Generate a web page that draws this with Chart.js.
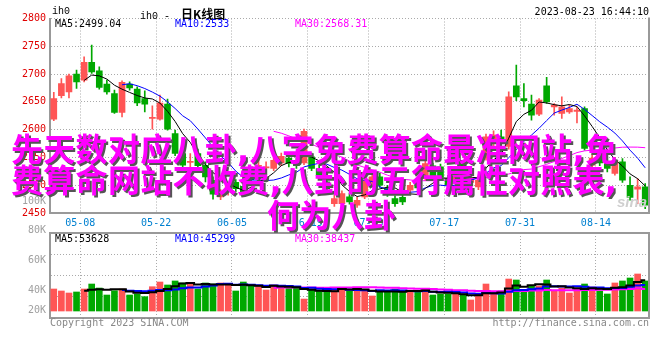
<!DOCTYPE html>
<html>
<head>
<meta charset="utf-8">
<script src="https://cdn.jsdelivr.net/npm/chart.js@4.4.0/dist/chart.umd.min.js"></script>
<style>
  body { margin: 0; width: 660px; height: 360px; background: #fff; position: relative; overflow: hidden; font-family: "DejaVu Sans Mono", monospace; }
  canvas { position: absolute; left: 0; top: 0; }
  .t { position: absolute; font-size: 10px; line-height: 10px; white-space: nowrap; }
  .big { position: absolute; font: bold 32px/32px "DejaVu Sans", "Noto Sans CJK SC"; letter-spacing: 0.3px; color: #ff00ff; text-shadow: 2px 2px 0 #555; white-space: nowrap; }
</style>
</head>
<body>
<canvas id="price" width="660" height="360"></canvas>
<canvas id="vol" width="660" height="360"></canvas>

<div class="t" style="left:52px;top:7px;font-family:'Liberation Mono'">ih0</div>
<div class="t" style="left:140px;top:5px;line-height:12px"><span style="font-family:'Liberation Mono'">ih0 -</span><span style="font:bold 12px 'Noto Sans CJK SC';margin-left:11px">日K线图</span></div>
<div class="t" style="right:11px;top:7px">2023-08-23 16:44:10</div>

<div class="t" style="left:55px;top:19px;color:#000">MA5:2499.04</div>
<div class="t" style="left:175px;top:19px;color:#0000ff">MA10:2533</div>
<div class="t" style="left:295px;top:19px;color:#ff00ff">MA30:2568.31</div>

<div class="t" style="left:55px;top:234px;color:#000">MA5:53628</div>
<div class="t" style="left:175px;top:234px;color:#0000ff">MA10:45299</div>
<div class="t" style="left:295px;top:234px;color:#ff00ff">MA30:38437</div>

<div class="t" style="left:50px;top:318px;color:#888">Copyright 2023 SINA.COM</div>
<div class="t" style="right:11px;top:318px;color:#888">http://finance.sina.com.cn</div>
<div class="t" style="left:617px;top:193px;font:italic bold 15px 'Liberation Sans';color:#cfcfcf">sina</div>

<div class="big" style="left:11px;top:134px">先天数对应八卦,八字免费算命最准网站,免</div>
<div class="big" style="left:11px;top:165px">费算命网站不收费,八卦的五行属性对照表,</div>
<div class="big" style="left:267px;top:200px">何为八卦</div>

<script>
// trading days shown on the daily K chart
const dates = ['04-27','04-28','05-04','05-05','05-08','05-09','05-10','05-11','05-12','05-15',
  '05-16','05-17','05-18','05-19','05-22','05-23','05-24','05-25','05-26','05-29',
  '05-30','05-31','06-01','06-02','06-05','06-06','06-07','06-08','06-09','06-12',
  '06-13','06-14','06-15','06-16','06-19','06-20','06-21','06-26','06-27','06-28',
  '06-29','06-30','07-03','07-04','07-05','07-06','07-07','07-10','07-11','07-12',
  '07-13','07-14','07-17','07-18','07-19','07-20','07-21','07-24','07-25','07-26',
  '07-27','07-28','07-31','08-01','08-02','08-03','08-04','08-07','08-08','08-09',
  '08-10','08-11','08-14','08-15','08-16','08-17','08-18','08-21','08-22'];
const tickDates = ['05-08','05-22','06-05','06-19','07-03','07-17','07-31','08-14'];

// OHLC
const open = [2619,2661,2668,2700,2689,2721,2706,2682,2665,2631,
  2682,2673,2656,2620,2619,2646,2593,2557,2541,2557,
  2536,2509,2479,2488,2505,2498,2520,2534,2531,2530,
  2540,2549,2545,2540,2551,2530,2506,2467,2467,2479,
  2464,2479,2505,2515,2494,2476,2478,2491,2505,2512,
  2535,2533,2512,2503,2539,2505,2497,2549,2575,2587,
  2570,2679,2656,2646,2628,2679,2641,2629,2632,2633,
  2638,2536,2555,2539,2521,2542,2500,2493,2497];
const high = [2667,2692,2700,2707,2731,2752,2713,2689,2671,2688,
  2686,2677,2670,2643,2662,2655,2599,2563,2557,2565,
  2542,2515,2492,2505,2510,2550,2526,2545,2542,2550,
  2558,2555,2550,2601,2558,2536,2512,2482,2490,2486,
  2478,2512,2520,2522,2500,2481,2484,2505,2511,2545,
  2540,2538,2518,2520,2545,2518,2514,2592,2598,2599,
  2668,2716,2683,2662,2656,2694,2647,2659,2644,2641,
  2641,2555,2562,2551,2550,2548,2515,2512,2503];
const low = [2616,2657,2657,2674,2686,2701,2673,2664,2629,2623,
  2671,2643,2632,2601,2617,2599,2553,2524,2527,2524,
  2506,2475,2474,2482,2488,2482,2505,2525,2522,2526,
  2535,2533,2530,2537,2526,2514,2490,2462,2463,2466,
  2460,2476,2500,2496,2480,2462,2465,2486,2490,2508,
  2510,2510,2495,2498,2525,2500,2492,2545,2570,2570,
  2565,2652,2641,2617,2625,2647,2626,2620,2629,2612,
  2563,2530,2535,2524,2518,2505,2473,2467,2458];
const close = [2656,2683,2697,2686,2721,2704,2676,2668,2631,2685,
  2675,2648,2646,2622,2648,2601,2557,2536,2543,2535,
  2515,2484,2488,2500,2494,2488,2510,2536,2533,2545,
  2552,2539,2535,2597,2530,2518,2494,2476,2485,2470,
  2473,2509,2515,2500,2485,2467,2470,2500,2495,2539,
  2515,2515,2500,2515,2530,2512,2509,2587,2590,2578,
  2659,2659,2652,2626,2653,2650,2644,2641,2638,2635,
  2566,2549,2540,2530,2545,2509,2478,2497,2464];

// moving averages as drawn on the chart
const ma5 = [null,null,null,null,
  2688.6,2698.2,2696.8,2691,2680,2672.8,2667,2661.4,2657,2655.2,
  2647.8,2633,2614.8,2592.8,2577,2554.4,2537.2,2522.6,2513,2504.4,
  2496.2,2490.8,2496,2505.6,2512.2,2522.4,2535.2,2541,2540.8,2553.6,
  2550.6,2543.8,2534.8,2523,2500.6,2488.6,2479.6,2482.6,2490.4,2493.4,
  2496.4,2495.2,2487.4,2484.4,2483.4,2494.2,2503.8,2512.8,2512.8,2516.8,
  2515,2514.4,2513.2,2530.6,2545.6,2555.2,2584.6,2614.6,2627.6,2634.8,
  2649.8,2648,2645,2642.8,2645.2,2641.6,2624.8,2605.8,2585.6,2564,
  2546,2534.6,2520.4,2511.8,2498.6];
const ma10 = [null,null,null,null,null,null,null,null,null,
  2680.7,2682.6,2679.1,2674,2667.6,2660.3,2650,2638.1,2624.9,2616.1,
  2601.1,2585.1,2568.7,2552.9,2540.7,2525.3,2514,2509.3,2509.3,2508.3,
  2509.3,2513,2518.5,2523.2,2532.9,2536.5,2539.5,2537.9,2531.9,2527.1,
  2519.6,2511.7,2508.7,2506.7,2497,2492.5,2487.4,2485,2487.4,2488.4,
  2495.3,2499.5,2500.1,2498.6,2500.1,2504.6,2509.1,2513,2521.7,2531.2,
  2535.1,2549.5,2563.9,2579.1,2590.2,2602.5,2616.3,2629.8,2635.2,2640,
  2645.7,2636.4,2625.4,2614.2,2604.6,2593.8,2579.7,2563.1,2548.7,2531.3];
const ma30 = [null,null,null,null,null,null,null,null,null,null,
  null,null,null,null,null,null,null,null,null,null,
  null,null,null,null,null,null,null,null,null,
  2597,2593.6,2588.8,2583.4,2580.4,2574,2567.8,2561.8,2555.4,2550.5,
  2543.3,2536.6,2532,2527.6,2523.5,2518.1,2513.6,2510.7,2509.5,2507.9,
  2508.1,2508.1,2509.1,2509.5,2510,2511.2,2512,2512,2513.7,2515.6,
  2516.7,2520.2,2524.2,2528.1,2529.1,2533.2,2537.6,2542.6,2548.1,2553.2,
  2558.7,2561.8,2563.1,2564,2565,2567,2568.4,2568.6,2568.5,2567.5];

// volume, in thousands
const volume = [38.4,34.9,31.4,33.2,38.4,47.1,40.1,27.9,35.4,38.4,
  27.9,29.7,25.0,42.4,50.6,45.4,52.4,48.9,47.1,38.4,
  48.9,47.1,48.9,47.1,34.9,50.6,43.6,43.6,36.6,45.4,
  43.6,41.9,40.1,20.9,38.4,34.9,40.1,38.4,40.1,34.9,
  38.4,36.6,26.2,33.2,34.9,38.4,34.9,33.2,33.2,38.4,
  27.9,29.7,29.7,29.7,29.7,19.2,29.7,47.1,29.7,34.9,
  55.8,54.1,36.6,43.6,43.6,54.1,34.9,40.1,31.4,38.4,
  47.1,41.9,34.9,29.7,48.9,52.4,57.6,64.6,52.4];
const volMa5 = [null,null,null,null,
  35.3,37.0,38.0,37.3,37.8,37.8,33.9,31.9,31.3,32.7,
  35.1,38.6,43.2,47.9,48.9,46.4,47.1,46.1,46.1,46.1,
  45.4,45.7,45.0,44.0,41.9,44.0,42.6,42.2,41.5,38.4,
  37.0,35.2,34.9,34.5,38.4,37.7,38.4,37.7,35.2,33.9,
  33.9,33.9,33.5,34.9,34.9,35.6,33.5,32.5,31.8,31.1,
  29.3,27.6,27.6,31.1,31.1,32.1,39.4,44.3,42.2,45.0,
  46.7,46.4,42.6,43.3,40.8,39.8,38.4,39.8,38.7,38.4,
  40.5,41.6,44.7,50.6,53.6];
const volMa10 = [null,null,null,null,null,null,null,null,null,
  36.5,35.5,35.0,34.3,35.2,36.5,36.3,37.5,39.6,40.8,
  40.8,42.9,44.6,47.0,47.5,45.9,46.4,45.6,45.0,44.0,
  44.7,44.1,43.6,42.7,40.1,40.5,38.9,38.6,38.0,38.4,
  37.3,36.8,36.3,34.9,36.1,35.8,36.1,35.6,35.1,34.4,
  34.7,33.7,33.0,33.4,33.0,32.5,30.6,30.0,31.4,31.1,
  30.7,33.5,36.0,36.7,38.0,39.4,42.9,43.4,42.7,42.9,
  43.3,42.4,41.2,41.0,39.6,40.1,40.0,42.2,44.7,45.3];
const volMa30 = [null,null,null,null,null,null,null,null,null,null,
  null,null,null,null,null,null,null,null,null,null,
  null,null,null,null,null,null,null,null,null,
  40.7,40.8,41.1,41.4,40.9,40.9,40.5,40.5,40.9,41.0,
  40.9,41.3,41.5,41.5,41.2,40.7,40.5,39.9,39.4,38.9,
  38.9,38.2,37.6,37.0,36.4,36.2,35.2,34.7,34.8,34.6,
  34.3,34.7,35.1,35.0,35.7,35.9,36.5,36.4,36.4,36.1,
  36.2,36.5,36.7,37.0,36.9,37.4,37.8,38.6,39.6,38.4];

// axis labels printed beside the volume panel (K)
const volTickLabels = [100, 80, 60, 40, 20];

const UP = '#ff5555', DOWN = '#00a800';
const gridColor = '#aaaaaa', axisColor = '#999999';
const mono = { family: 'DejaVu Sans Mono', size: 10 };
const candleColor = close.map((c, i) => c >= open[i] ? UP : DOWN);

function dateGrid(ctx) {
  return tickDates.includes(dates[ctx.index]) ? gridColor : 'rgba(0,0,0,0)';
}

// solid frame on the right (and top for the volume panel)
const frame = {
  id: 'frame',
  afterDraw(chart, args, opts) {
    const { ctx, chartArea: a } = chart;
    ctx.save();
    ctx.strokeStyle = axisColor;
    ctx.lineWidth = 2;
    ctx.beginPath();
    ctx.moveTo(a.right, a.top - 1);
    ctx.lineTo(a.right, a.bottom + 1);
    if (opts.top) {
      ctx.moveTo(a.left, a.top);
      ctx.lineTo(a.right, a.top);
    }
    ctx.stroke();
    ctx.restore();
  }
};

// the volume panel prints its labels on a scale of its own
const volLabelMin = 21.1, volLabelMax = 78.4;
const volLabels = {
  id: 'volLabels',
  afterDraw(chart) {
    const { ctx, chartArea: a } = chart;
    ctx.save();
    ctx.font = '10px "DejaVu Sans Mono"';
    ctx.fillStyle = '#a0a0a0';
    ctx.textAlign = 'right';
    ctx.textBaseline = 'middle';
    volTickLabels.forEach(v => {
      let y = a.top + (volLabelMax - v) / (volLabelMax - volLabelMin) * (a.bottom - a.top);
      y = Math.min(y, a.bottom - 8);
      ctx.fillText(v + 'K', a.left - 4, y);
    });
    ctx.restore();
  }
};

function maLine(data, color, width, stepped) {
  return { type: 'line', data, borderColor: color, borderWidth: width, pointRadius: 0,
    tension: 0, stepped: stepped || false, order: 0 };
}

new Chart(document.getElementById('price'), {
  type: 'bar',
  data: {
    labels: dates,
    datasets: [
      maLine(ma5, '#000000', 1),
      maLine(ma10, '#0000ff', 1),
      maLine(ma30, '#ff00ff', 1),
      { data: open.map((o, i) => [o, close[i]]), backgroundColor: candleColor,
        barThickness: 6, grouped: false, order: 1 },
      { data: low.map((l, i) => [l, high[i]]), backgroundColor: candleColor,
        barThickness: 1, grouped: false, order: 2 }
    ]
  },
  options: {
    responsive: false,
    animation: false,
    layout: { padding: { top: 18.5, right: 11, left: 0, bottom: 0 } },
    plugins: { legend: { display: false }, tooltip: { enabled: false }, frame: { top: false } },
    scales: {
      x: {
        offset: true,
        grid: { offset: true, color: dateGrid, drawTicks: false },
        border: { color: axisColor, width: 2, dash: [1, 2] },
        ticks: {
          autoSkip: false, maxRotation: 0, padding: 4, labelOffset: -3.8,
          color: '#0080d0', font: mono,
          callback: (v, i) => tickDates.includes(dates[i]) ? dates[i] : ''
        },
        afterFit: s => { s.height = 147; }
      },
      y: {
        min: 2450, max: 2800,
        ticks: { stepSize: 50, color: '#e00000', padding: 4, font: mono, callback: v => String(v) },
        grid: { color: gridColor, drawTicks: false },
        border: { color: axisColor, width: 2, dash: [1, 2] },
        afterFit: s => { s.width = 50; }
      }
    }
  },
  plugins: [frame]
});

new Chart(document.getElementById('vol'), {
  type: 'bar',
  data: {
    labels: dates,
    datasets: [
      maLine(volMa5, '#000000', 2, 'middle'),
      maLine(volMa10, '#0000ff', 2, 'middle'),
      maLine(volMa30, '#ff00ff', 2, 'middle'),
      { data: volume, backgroundColor: candleColor, barThickness: 6, grouped: false, order: 1 }
    ]
  },
  options: {
    responsive: false,
    animation: false,
    layout: { padding: { top: 233, right: 11, left: 0, bottom: 0 } },
    plugins: { legend: { display: false }, tooltip: { enabled: false }, frame: { top: true } },
    scales: {
      x: {
        offset: true,
        grid: { offset: true, color: dateGrid, drawTicks: false },
        border: { color: axisColor, width: 2, dash: [1, 2] },
        ticks: { display: false },
        afterFit: s => { s.height = 42; }
      },
      y: {
        min: -12.2, max: 136.1,
        ticks: { display: false },
        grid: { color: gridColor, drawTicks: false },
        border: { color: axisColor, width: 2, dash: [1, 2] },
        afterBuildTicks: s => {
          const q = (s.max - s.min) / 4;
          s.ticks = [0, 1, 2, 3, 4].map(k => ({ value: s.min + k * q }));
        },
        afterFit: s => { s.width = 50; }
      }
    }
  },
  plugins: [frame, volLabels]
});
</script>
</body>
</html>
